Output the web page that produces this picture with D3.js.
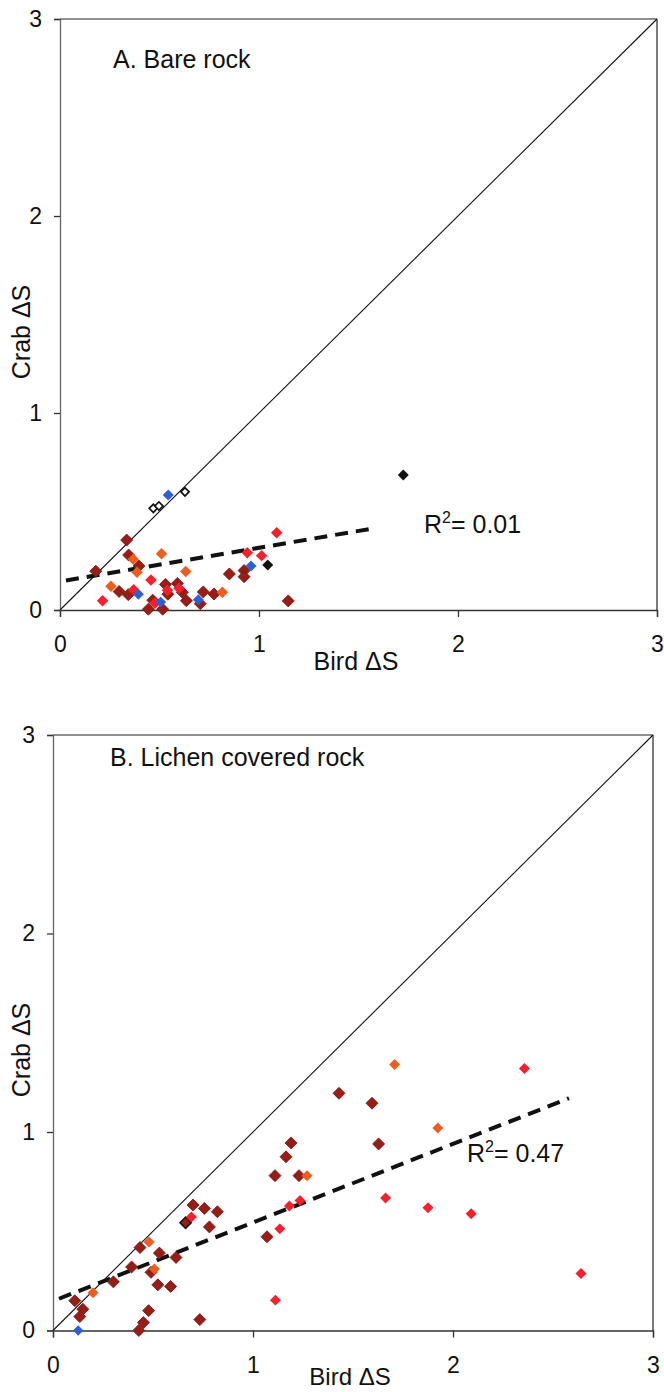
<!DOCTYPE html>
<html><head><meta charset="utf-8">
<script src="https://cdn.jsdelivr.net/npm/d3@7"></script>
<style>html,body{margin:0;padding:0;background:#fff}svg{display:block}</style>
</head><body>
<script>
// ---------- DATA ----------
const tickValues = [0, 1, 2, 3];
const titleA = "A. Bare rock";
const titleB = "B. Lichen covered rock";
const xLabel = "Bird ΔS";
const yLabel = "Crab ΔS";
const r2A = "0.01";
const r2B = "0.47";

// Panel A series [birdΔS, crabΔS]
const aDarkRed = [[0.18,0.197],[0.335,0.355],[0.345,0.279],[0.397,0.223],[0.297,0.094],[0.343,0.078],[0.53,0.13],[0.542,0.08],[0.59,0.135],[0.615,0.09],[0.635,0.047],[0.72,0.092],[0.774,0.081],[0.851,0.183],[0.925,0.20],[0.925,0.169],[0.466,0.05],[0.444,0.004],[0.516,0.004],[0.705,0.032],[1.147,0.046]];
const aRed = [[1.089,0.392],[0.941,0.291],[1.013,0.276],[0.457,0.152],[0.37,0.103],[0.54,0.10],[0.598,0.11],[0.214,0.047],[0.477,0.034]];
const aOrange = [[0.368,0.258],[0.51,0.286],[0.387,0.192],[0.632,0.195],[0.256,0.12],[0.816,0.09]];
const aBlue = [[0.544,0.584],[0.96,0.223],[0.394,0.08],[0.506,0.04],[0.695,0.052]];
const aBlack = [[1.044,0.228],[1.725,0.685]];
const aOpen = [[0.469,0.516],[0.497,0.528],[0.628,0.60]];
const aTrend = [[0.03,0.15],[1.58,0.415]];

// Panel B series
const bDarkRed = [[0.109,0.15],[0.149,0.107],[0.134,0.07],[0.302,0.245],[0.393,0.32],[0.435,0.418],[0.49,0.293],[0.532,0.39],[0.524,0.23],[0.588,0.222],[0.615,0.368],[0.478,0.10],[0.452,0.04],[0.429,0.0],[0.734,0.055],[0.70,0.632],[0.757,0.615],[0.822,0.598],[0.782,0.522],[1.07,0.472],[1.11,0.78],[1.165,0.875],[1.19,0.945],[1.23,0.78],[1.43,1.195],[1.595,1.145],[1.628,0.94]];
const bRed = [[0.692,0.572],[1.134,0.512],[1.182,0.627],[1.235,0.655],[1.112,0.153],[1.663,0.668],[1.875,0.618],[2.091,0.588],[2.357,1.32],[2.64,0.287]];
const bOrange = [[0.2,0.19],[0.48,0.446],[0.507,0.31],[1.27,0.78],[1.708,1.34],[1.924,1.02]];
const bBlue = [[0.126,0.0]];
const bOutlined = [[0.663,0.543]];
const bTrend = [[0.03,0.16],[2.58,1.17]];

// ---------- DRAW ----------
const W = 664, H = 1392;
const svg = d3.select("body").append("svg").attr("width", W).attr("height", H);
const FONT = "Liberation Sans, Arial, Helvetica, sans-serif";
const COL = {darkred:"#981d17", red:"#f5202b", orange:"#ec5e1f", blue:"#2e5fd4", black:"#111111"};

function panel(cfg) {
  const x = d3.scaleLinear().domain([0,3]).range([cfg.left, cfg.right]);
  const y = d3.scaleLinear().domain([0,3]).range([cfg.bottom, cfg.top]);
  const g = svg.append("g");

  g.append("line").attr("x1", x(0)).attr("x2", x(3)).attr("y1", y(3)).attr("y2", y(3)).attr("stroke","#222").attr("stroke-width",1.2);
  g.append("line").attr("x1", x(3)).attr("x2", x(3)).attr("y1", y(3)).attr("y2", y(0)).attr("stroke","#222").attr("stroke-width",1.2);

  const xa = g.append("g").attr("transform", `translate(0,${y(0)})`)
    .call(d3.axisBottom(x).tickValues(tickValues).tickSize(7).tickPadding(19).tickFormat(d3.format("d")));
  const ya = g.append("g").attr("transform", `translate(${x(0)},0)`)
    .call(d3.axisLeft(y).tickValues(tickValues).tickSize(6).tickPadding(12).tickFormat(d3.format("d")));
  [xa, ya].forEach(a => {
    a.select(".domain").attr("stroke", "#333").attr("stroke-width", 1.3);
    a.selectAll(".tick line").attr("stroke", "#333").attr("stroke-width", 1.3);
    a.selectAll("text").attr("font-family", FONT).attr("font-size", 23).attr("fill", "#111");
  });
  ya.select(".domain").attr("stroke", "#666");

  g.append("line").attr("x1", x(0)).attr("y1", y(0)).attr("x2", x(3)).attr("y2", y(3))
    .attr("stroke", "#111").attr("stroke-width", 1.1);

  g.append("path").datum(cfg.trend)
    .attr("d", d3.line().x(d => x(d[0])).y(d => y(d[1])))
    .attr("stroke", "#111").attr("stroke-width", 4).attr("stroke-dasharray", "13,8").attr("fill", "none");

  const sym = d3.symbol().type(d3.symbolSquare);
  function pts(data, fill, stroke, size, sw) {
    g.selectAll(null).data(data).enter().append("path")
      .attr("d", sym.size(size)())
      .attr("transform", d => `translate(${x(d[0])},${y(d[1])}) rotate(45)`)
      .attr("fill", fill).attr("stroke", stroke).attr("stroke-width", sw);
  }
  cfg.series.forEach(s => pts(s.data, s.fill, s.stroke, s.size, s.sw));

  const TS = 25;
  g.append("text").attr("x", cfg.titleX).attr("y", cfg.titleY).text(cfg.title)
    .attr("font-family", FONT).attr("font-size", TS).attr("fill", "#111");
  const r = g.append("text").attr("x", cfg.r2X).attr("y", cfg.r2Y)
    .attr("font-family", FONT).attr("font-size", TS).attr("fill", "#111");
  r.append("tspan").text("R");
  r.append("tspan").text("2").attr("font-size", 16).attr("dy", -10);
  r.append("tspan").text("= " + cfg.r2).attr("dy", 10);

  g.append("text").attr("x", cfg.xlabX).attr("y", cfg.xlabY).attr("text-anchor", "middle").text(xLabel)
    .attr("font-family", FONT).attr("font-size", cfg.xlabSize || TS).attr("fill", "#111");
  g.append("text").attr("transform", `translate(${cfg.ylabX},${cfg.ylabY}) rotate(-90)`).attr("text-anchor", "middle").text(yLabel)
    .attr("font-family", FONT).attr("font-size", TS).attr("fill", "#111");
}

panel({
  left: 60, right: 657, top: 19, bottom: 610,
  trend: aTrend, title: titleA, titleX: 113, titleY: 68,
  r2: r2A, r2X: 424, r2Y: 533,
  xlabX: 356, xlabY: 670, ylabX: 30, ylabY: 332,
  series: [
    {data: aDarkRed, fill: COL.darkred, stroke: "#7a1510", size: 72, sw: 0.8},
    {data: aOrange, fill: COL.orange, stroke: "none", size: 66, sw: 0},
    {data: aRed, fill: COL.red, stroke: "none", size: 66, sw: 0},
    {data: aBlue, fill: COL.blue, stroke: "none", size: 60, sw: 0},
    {data: aBlack, fill: COL.black, stroke: "none", size: 60, sw: 0},
    {data: aOpen, fill: "#fff", stroke: "#111", size: 34, sw: 1.7}
  ]
});

panel({
  left: 53, right: 653, top: 735, bottom: 1330.5,
  trend: bTrend, title: titleB, titleX: 110, titleY: 766,
  r2: r2B, r2X: 467, r2Y: 1162,
  xlabX: 350, xlabY: 1385, xlabSize: 24, ylabX: 30, ylabY: 1050,
  series: [
    {data: bDarkRed, fill: COL.darkred, stroke: "#7a1510", size: 72, sw: 0.8},
    {data: bOutlined, fill: COL.darkred, stroke: "#111", size: 64, sw: 1.5},
    {data: bOrange, fill: COL.orange, stroke: "none", size: 60, sw: 0},
    {data: bRed, fill: COL.red, stroke: "none", size: 60, sw: 0},
    {data: bBlue, fill: COL.blue, stroke: "none", size: 55, sw: 0}
  ]
});
</script>
</body></html>
